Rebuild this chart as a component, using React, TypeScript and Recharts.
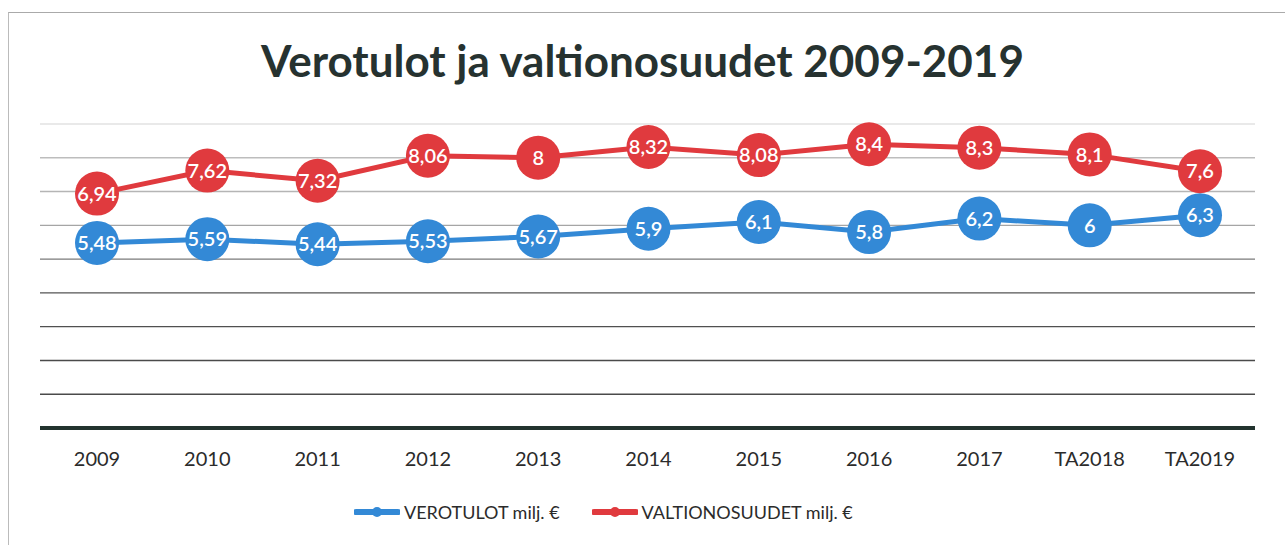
import { LineChart, Line, XAxis, YAxis, ReferenceLine } from 'recharts'

const years = ['2009', '2010', '2011', '2012', '2013', '2014', '2015', '2016', '2017', 'TA2018', 'TA2019']
const verotulot = [5.48, 5.59, 5.44, 5.53, 5.67, 5.9, 6.1, 5.8, 6.2, 6, 6.3]
const valtionosuudet = [6.94, 7.62, 7.32, 8.06, 8, 8.32, 8.08, 8.4, 8.3, 8.1, 7.6]
const gridValues = [1, 2, 3, 4, 5, 6, 7, 8, 9]
// scanned page: upper grid lines came out paler than the lower ones
const gridColors = ['#4a4a4a', '#4a4a4a', '#505050', '#555555', '#7a7a7a', '#a5a5a5', '#b5b5b5', '#bdbdbd', '#e2e2e2']

const BLUE = '#3389d6'
const RED = '#e03a3e'
const FONT = 'Lato, "Open Sans", sans-serif'

const data = years.map((year, i) => ({ year, vero: verotulot[i], valtio: valtionosuudet[i] }))

const fmt = (v: number) => String(v).replace('.', ',')

// bubble with the value inside, like the excel chart
const bubble = (color: string) => (props: any) => {
  const { cx, cy, value, index } = props
  if (cx == null || cy == null) return <g key={index} />
  return (
    <g key={`${color}-${index}`}>
      <circle cx={cx} cy={cy} r={22} fill={color} />
      <text x={cx} y={cy} dy="0.36em" textAnchor="middle" fill="#fff" fontSize={20} fontWeight={600} fontFamily={FONT}>
        {fmt(value)}
      </text>
    </g>
  )
}

function LegendItem({ color, label }: { color: string; label: string }) {
  return (
    <div style={{ display: 'flex', alignItems: 'center', gap: 4 }}>
      <svg width={46} height={12}>
        <line x1={2} y1={6} x2={44} y2={6} stroke={color} strokeWidth={6} strokeLinecap="round" />
        <circle cx={23} cy={6} r={5} fill={color} />
      </svg>
      <span>{label}</span>
    </div>
  )
}

export default function App() {
  return (
    <div style={{ position: 'relative', width: 1285, height: 545, background: '#fff', fontFamily: FONT, overflow: 'hidden' }}>
      <style>{`body{margin:0}`}</style>
      <div style={{ position: 'absolute', left: 8, top: 12, right: 0, bottom: 0, borderLeft: '1px solid #bbb', borderTop: '1px solid #aaa' }} />
      <div style={{ position: 'absolute', left: 0, width: 1285, top: 34, lineHeight: 1.2, textAlign: 'center', fontSize: 44, fontWeight: 700, color: '#263230' }}>
        Verotulot ja valtionosuudet 2009-2019
      </div>
      <div style={{ position: 'absolute', top: 0, left: 0 }}>
        <LineChart width={1285} height={545} data={data} margin={{ top: 124, right: 30, left: 40, bottom: 77 }}>
          {gridValues.map((v, i) => (
            <ReferenceLine key={v} y={v} stroke={gridColors[i]} strokeWidth={1.4} />
          ))}
          <XAxis
            dataKey="year"
            height={40}
            padding={{ left: 57, right: 55 }}
            tickLine={false}
            axisLine={{ stroke: '#22332e', strokeWidth: 4 }}
            tickMargin={18}
            tick={{ fill: '#2b2b2b', fontSize: 20, fontFamily: FONT }}
          />
          <YAxis hide domain={[0, 9]} />
          <Line dataKey="vero" stroke={BLUE} strokeWidth={5} dot={bubble(BLUE)} isAnimationActive={false} />
          <Line dataKey="valtio" stroke={RED} strokeWidth={5} dot={bubble(RED)} isAnimationActive={false} />
        </LineChart>
      </div>
      <div style={{ position: 'absolute', top: 501, left: 354, display: 'flex', gap: 32, fontSize: 18, color: '#2b2b2b' }}>
        <LegendItem color={BLUE} label="VEROTULOT milj. €" />
        <LegendItem color={RED} label="VALTIONOSUUDET milj. €" />
      </div>
    </div>
  )
}
